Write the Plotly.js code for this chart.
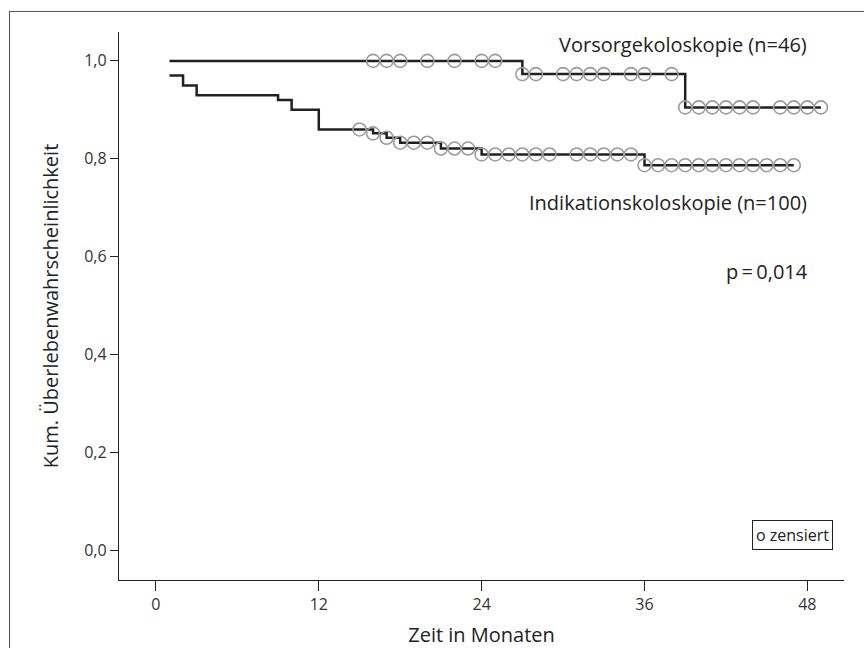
<!DOCTYPE html>
<html>
<head>
<meta charset="utf-8">
<script src="https://cdn.plot.ly/plotly-3.0.1.min.js"></script>
<style>
  html, body { margin: 0; padding: 0; background: #fff; overflow: hidden; }
  #wrap { position: relative; width: 864px; height: 648px; }
  #frame { position: absolute; left: 9px; top: 11px; width: 900px; height: 700px;
           border-left: 1.5px solid #555; border-top: 1.5px solid #555; pointer-events: none; z-index: 5; }
  #chart { position: absolute; left: 0; top: 0; width: 864px; height: 648px; }
</style>
</head>
<body>
<div id="wrap">
  <div id="chart"></div>
  <div id="frame"></div>
</div>
<script>
// ---- Data ----
// Vorsorgekoloskopie (n=46): step function
const vorsTime = [1, 27, 39, 49];
const vorsSurv = [1.0, 0.973, 0.905, 0.905];
const vorsCensorTime = [16, 17, 18, 20, 22, 24, 25,
                        27, 28, 30, 31, 32, 33, 35, 36, 38,
                        39, 40, 41, 42, 43, 44, 46, 47, 48, 49];

// Indikationskoloskopie (n=100): step function
const indTime = [1, 2, 3, 9, 10, 12, 16, 17, 18, 21, 24, 36, 47];
const indSurv = [0.97, 0.95, 0.93, 0.92, 0.90, 0.86, 0.852, 0.843, 0.833, 0.821, 0.809, 0.787, 0.787];
const indCensorTime = [15, 16, 17, 18, 19, 20, 21, 22, 23, 24, 25, 26, 27, 28, 29,
                       31, 32, 33, 34, 35,
                       36, 37, 38, 39, 40, 41, 42, 43, 44, 45, 46, 47];

const xTickVals = [0, 12, 24, 36, 48];
const xTickText = ['0', '12', '24', '36', '48'];
const yTickVals = [0, 0.2, 0.4, 0.6, 0.8, 1.0];
const yTickText = ['0,0', '0,2', '0,4', '0,6', '0,8', '1,0'];

const labelVors = 'Vorsorgekoloskopie (n=46)';
const labelInd = 'Indikationskoloskopie (n=100)';
const pText = 'p\u2009=\u20090,014';
const censorText = 'o zensiert';

// survival lookup on a step function
function survAt(times, surv, t) {
  let s = surv[0];
  for (let i = 0; i < times.length; i++) { if (times[i] <= t) s = surv[i]; }
  return s;
}

const FONT = '"Open Sans", "Noto Sans", sans-serif';
const lineColor = '#231f20';
const circColor = '#9b9b9b';

const traces = [
  { x: vorsTime, y: vorsSurv, mode: 'lines', line: { shape: 'hv', color: lineColor, width: 2.5 },
    hoverinfo: 'skip', showlegend: false },
  { x: indTime, y: indSurv, mode: 'lines', line: { shape: 'hv', color: lineColor, width: 2.5 },
    hoverinfo: 'skip', showlegend: false },
  { x: vorsCensorTime, y: vorsCensorTime.map(t => survAt(vorsTime, vorsSurv, t)), mode: 'markers',
    marker: { symbol: 'circle-open', size: 13, line: { color: circColor, width: 1.6 }, color: circColor },
    hoverinfo: 'skip', showlegend: false },
  { x: indCensorTime, y: indCensorTime.map(t => survAt(indTime, indSurv, t)), mode: 'markers',
    marker: { symbol: 'circle-open', size: 13, line: { color: circColor, width: 1.6 }, color: circColor },
    hoverinfo: 'skip', showlegend: false }
];

const layout = {
  width: 864, height: 648,
  margin: { l: 119, r: 20, t: 32, b: 68 },
  paper_bgcolor: 'rgba(0,0,0,0)', plot_bgcolor: '#fff',
  font: { family: FONT, color: '#333', size: 16 },
  xaxis: {
    range: [-2.72, 50.7], showgrid: false, zeroline: false,
    showline: true, linecolor: '#222', linewidth: 1.2,
    ticks: 'outside', ticklen: 10, tickcolor: '#222', tickwidth: 1,
    tickvals: xTickVals, ticktext: xTickText,
    tickfont: { family: FONT, size: 16, color: '#333' },
    title: { text: 'Zeit in Monaten', font: { family: FONT, size: 20, color: '#222' }, standoff: 13 }
  },
  yaxis: {
    range: [-0.06, 1.059], showgrid: false, zeroline: false,
    showline: true, linecolor: '#222', linewidth: 1.2,
    ticks: 'outside', ticklen: 8, tickcolor: '#222', tickwidth: 1,
    tickvals: yTickVals, ticktext: yTickText,
    tickfont: { family: FONT, size: 16, color: '#333' },
    title: { text: 'Kum. Überlebenwahrscheinlichkeit', font: { family: FONT, size: 20, color: '#222' }, standoff: 20 }
  },
  annotations: [
    { xref: 'x', yref: 'y', x: 48.1, y: 1.033, text: labelVors, showarrow: false,
      xanchor: 'right', yanchor: 'middle', font: { family: FONT, size: 20, color: '#222' } },
    { xref: 'x', yref: 'y', x: 48.1, y: 0.71, text: labelInd, showarrow: false,
      xanchor: 'right', yanchor: 'middle', font: { family: FONT, size: 20, color: '#222' } },
    { xref: 'x', yref: 'y', x: 48.2, y: 0.569, text: pText, showarrow: false,
      xanchor: 'right', yanchor: 'middle', font: { family: FONT, size: 20, color: '#222' } },
    { xref: 'x', yref: 'y', x: 46.87, y: 0.031, text: censorText, showarrow: false,
      xanchor: 'center', yanchor: 'middle', font: { family: FONT, size: 16, color: '#222' },
      bordercolor: '#222', borderwidth: 1, borderpad: 3, bgcolor: '#fff' }
  ]
};

Plotly.newPlot('chart', traces, layout, { displayModeBar: false, staticPlot: true });
</script>
</body>
</html>
